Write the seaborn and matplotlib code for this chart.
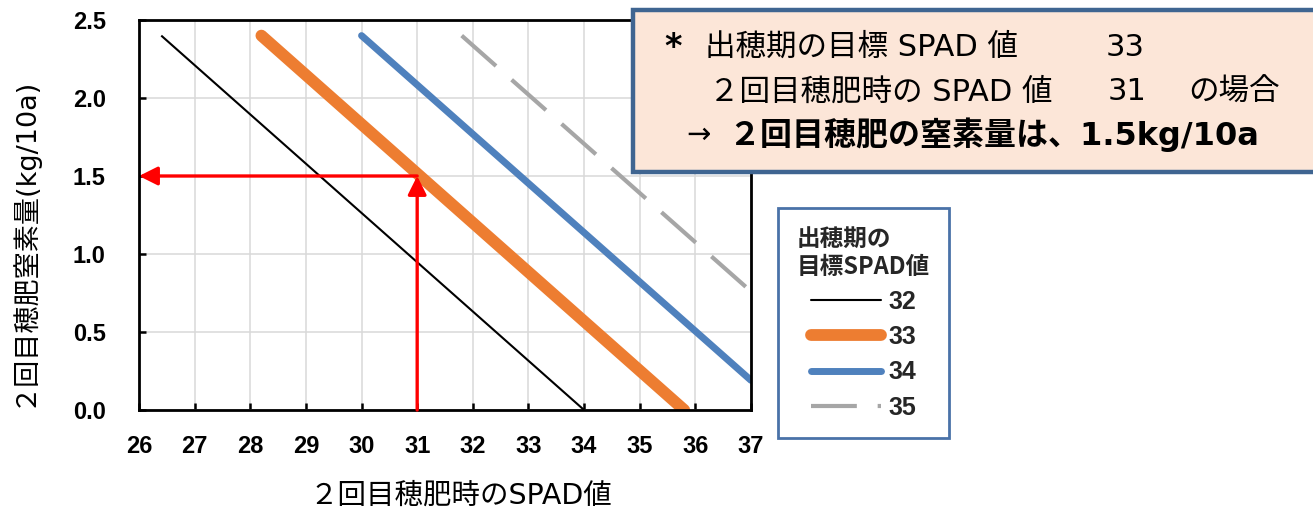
import matplotlib
matplotlib.use("Agg")
import matplotlib.pyplot as plt
from matplotlib.font_manager import FontProperties
from matplotlib.patches import Rectangle
import numpy as np
import pandas as pd
import seaborn as sns

# --- data -------------------------------------------------------------
target_spad = ["32", "33", "34", "35"]          # 出穂期の目標SPAD値
spad_start = [26.4, 28.2, 30.0, 31.8]           # 2回目穂肥時のSPAD値 (line start)
spad_end = [34.0, 35.8, 37.0, 37.0]             # (line end)
n_start = [2.4, 2.4, 2.4, 2.4]                  # 窒素量 kg/10a at start
n_end = [0.0, 0.0, 0.19, 0.76]                  # 窒素量 kg/10a at end

example_spad = 31.0
example_n = 1.5

x_ticks = list(range(26, 38))
y_ticks = [0.0, 0.5, 1.0, 1.5, 2.0, 2.5]

line_colors = ["#000000", "#ED7D31", "#4F81BD", "#A6A6A6"]
line_widths = [1.5, 8.5, 5.0, 3.0]

rows = []
for t, xs, xe, ys, ye in zip(target_spad, spad_start, spad_end, n_start, n_end):
    rows.append({"target": t, "spad": xs, "n": ys})
    rows.append({"target": t, "spad": xe, "n": ye})
df = pd.DataFrame(rows)

# --- figure -----------------------------------------------------------
sns.set_theme(style="white")
plt.rcParams["font.family"] = ["Noto Sans CJK JP", "DejaVu Sans"]
LATIN_CJK = ["DejaVu Sans", "Noto Sans CJK JP"]

W, H = 1313, 511
fig = plt.figure(figsize=(W / 100, H / 100), dpi=100)
fig.patch.set_facecolor("white")
ax = fig.add_axes([139 / W, 1 - 410 / H, (751 - 139) / W, (410 - 20) / H])

for t, c, lw in zip(target_spad, line_colors, line_widths):
    sns.lineplot(data=df[df["target"] == t], x="spad", y="n", ax=ax,
                 color=c, linewidth=lw, label=t, sort=False, estimator=None,
                 solid_capstyle="round" if t != "32" else "butt")

ax.lines[3].set_dashes((11, 5))
ax.lines[3].set_dash_capstyle("butt")

# red guide arrows: SPAD 31 -> curve 33 -> 1.5 kg/10a
arrow_kw = dict(arrowstyle="-|>,head_length=0.8,head_width=0.4",
                color="#FF0000", lw=2.4, shrinkA=0, shrinkB=0,
                mutation_scale=14)
ax.annotate("", xy=(example_spad, example_n), xytext=(example_spad, 0.0),
            arrowprops=arrow_kw, zorder=5)
ax.annotate("", xy=(x_ticks[0], example_n), xytext=(example_spad, example_n),
            arrowprops=arrow_kw, zorder=5)

ax.set_xlim(x_ticks[0], x_ticks[-1])
ax.set_ylim(y_ticks[0], y_ticks[-1])
ax.set_xticks(x_ticks)
ax.set_yticks(y_ticks)
ax.set_yticklabels([f"{v:.1f}" for v in y_ticks])
ax.grid(True, color="#D9D9D9", linewidth=1.1)
ax.set_axisbelow(True)
for s in ax.spines.values():
    s.set_color("black")
    s.set_linewidth(2.0)
ax.tick_params(axis="both", direction="in", length=5, width=1.8,
               colors="black", bottom=True, left=True)
ax.tick_params(axis="x", pad=18)
ax.tick_params(axis="y", pad=24)
for lbl in ax.get_xticklabels() + ax.get_yticklabels():
    lbl.set_fontfamily("Liberation Sans")
    lbl.set_fontweight("bold")
    lbl.set_fontsize(17)

ax.set_xlabel("２回目穂肥時のSPAD値", fontsize=20.5, color="black",
              family=LATIN_CJK)
ax.xaxis.set_label_coords((461 - 139) / 612, (410 - 496) / 390)
ax.xaxis.label.set_va("center")
ax.set_ylabel("２回目穂肥窒素量(kg/10a)", fontsize=19.5, color="black",
              family=LATIN_CJK)
ax.yaxis.set_label_coords((22 - 139) / 612, (410 - 241) / 390)
ax.yaxis.label.set_va("center")

# legend
handles, labels = ax.get_legend_handles_labels()
leg = ax.legend(handles, labels, title="出穂期の\n目標SPAD値",
                loc="upper left", bbox_to_anchor=(778 / W, 1 - 208 / H),
                bbox_transform=fig.transFigure, borderaxespad=0,
                frameon=True, fancybox=False,
                edgecolor="#4A72A8", facecolor="white", framealpha=1,
                handlelength=2.8, handletextpad=0.3, labelspacing=0.45,
                borderpad=0.75,
                prop=FontProperties(family="Liberation Sans", weight="bold", size=18),
                title_fontproperties=FontProperties(family="Noto Sans CJK JP",
                                                    weight="bold", size=17))
leg.get_frame().set_linewidth(2.0)
for h in leg.legend_handles:
    h.set_solid_capstyle("round")

# note box
box = Rectangle((633 / W, 1 - 172 / H), (W + 20 - 633) / W, (172 - 10) / H,
                transform=fig.transFigure, facecolor="#FCE6D8",
                edgecolor="#3F6591", linewidth=3.2, zorder=10)
fig.add_artist(box)

def ftext(x, y, s, size=22, **kw):
    fig.text(x / W, 1 - y / H, s, va="center", ha="left", zorder=11,
             color="black", fontsize=size, family=LATIN_CJK, **kw)

ftext(664, 48, "*", size=24, fontweight="bold")
ftext(705, 47, "出穂期の目標 SPAD 値")
ftext(1106, 47, "33")
ftext(709, 92, "２回目穂肥時の SPAD 値")
ftext(1108, 92, "31")
ftext(1188, 92, "の場合")
ftext(686, 135, "→", size=21)
ftext(728, 135, "２回目穂肥の窒素量は、1.5kg/10a", size=23, fontweight="bold")

fig.savefig("out.png", dpi=100)
